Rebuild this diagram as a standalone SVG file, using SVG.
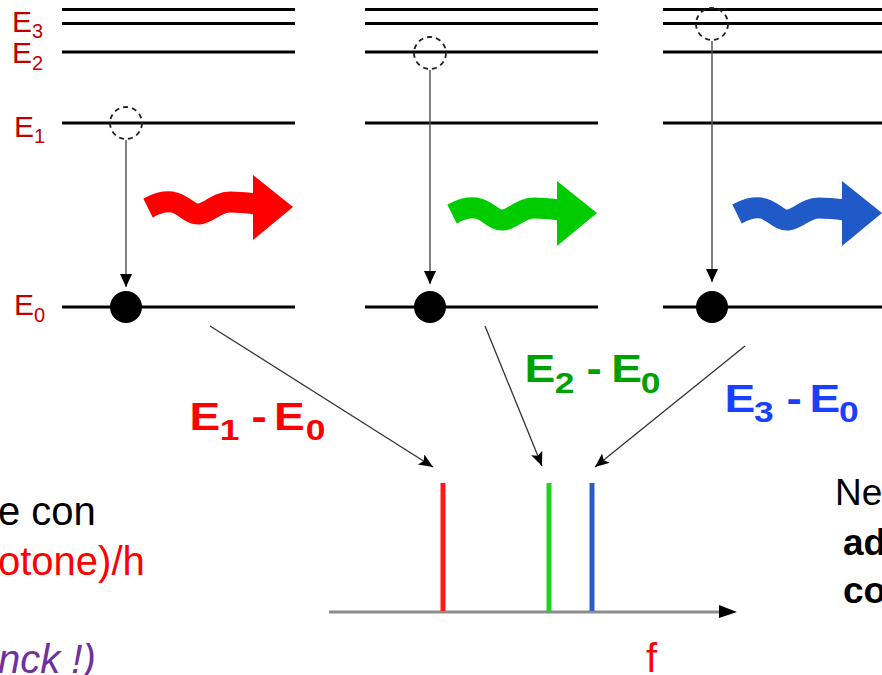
<svg xmlns="http://www.w3.org/2000/svg" xmlns:xlink="http://www.w3.org/1999/xlink" width="882" height="675" viewBox="0 0 882 675">
<style>
text{font-family:"Liberation Sans",Arial,sans-serif}
.lvl{stroke:#000;stroke-width:3;fill:none}
.ghost{fill:none;stroke:#222;stroke-width:1.8;stroke-dasharray:5 4}
.dot{fill:#000}
.elab{fill:#c00000;font-size:30px}
.sub{font-size:20px}
.vconn{stroke:#555;stroke-width:1.5;fill:none}
.dconn{stroke:#333;stroke-width:1.3;fill:none}
.big{font-size:39px;font-weight:bold}
.bsub{font-size:30px}
</style>
<defs>
<marker id="ah" markerUnits="userSpaceOnUse" markerWidth="14" markerHeight="14" refX="13" refY="6" orient="auto">
<path d="M0,0 L13,6 L0,12 Z" fill="#000"/>
</marker>
<marker id="ah2" markerUnits="userSpaceOnUse" markerWidth="16" markerHeight="14" refX="14" refY="6" orient="auto">
<path d="M0,0 L14,6 L0,12 L3,6 Z" fill="#000"/>
</marker>
<g id="wave">
<path d="M148,208 C158,203 164,201 172,202 C184,204 190,215 199,214 C210,213 216,202 230,202 C240,202 248,203 256,204" fill="none" stroke="currentColor" stroke-width="21"/>
<polygon points="253,175 293,207 253,240" fill="currentColor"/>
</g>
</defs>

<g id="level-labels">
<text class="elab" x="12" y="32">E<tspan class="sub" dy="6">3</tspan></text>
<text class="elab" x="12" y="63">E<tspan class="sub" dy="7">2</tspan></text>
<text class="elab" x="14" y="137">E<tspan class="sub" dy="6">1</tspan></text>
<text class="elab" x="14" y="315">E<tspan class="sub" dy="7">0</tspan></text>
</g>

<g id="atom-red">
<line class="lvl" x1="62" y1="9.5" x2="295" y2="9.5"/>
<line class="lvl" x1="62" y1="23.5" x2="295" y2="23.5"/>
<line class="lvl" x1="62" y1="52" x2="295" y2="52"/>
<line class="lvl" x1="62" y1="123" x2="295" y2="123"/>
<line class="lvl" x1="62" y1="307" x2="295" y2="307"/>
<circle class="ghost" cx="126" cy="123" r="16"/>
<circle class="dot" cx="126" cy="307" r="16"/>
<use xlink:href="#wave" href="#wave" color="#ff0000"/>
</g>

<g id="atom-green">
<line class="lvl" x1="365" y1="9.5" x2="598" y2="9.5"/>
<line class="lvl" x1="365" y1="23.5" x2="598" y2="23.5"/>
<line class="lvl" x1="365" y1="52" x2="598" y2="52"/>
<line class="lvl" x1="365" y1="123" x2="598" y2="123"/>
<line class="lvl" x1="365" y1="307" x2="598" y2="307"/>
<circle class="ghost" cx="430" cy="53" r="16"/>
<circle class="dot" cx="430" cy="307" r="16"/>
<use xlink:href="#wave" href="#wave" color="#00cc00" transform="translate(304,6)"/>
</g>

<g id="atom-blue">
<line class="lvl" x1="663" y1="9.5" x2="882" y2="9.5"/>
<line class="lvl" x1="663" y1="23.5" x2="882" y2="23.5"/>
<line class="lvl" x1="663" y1="52" x2="882" y2="52"/>
<line class="lvl" x1="663" y1="123" x2="882" y2="123"/>
<line class="lvl" x1="663" y1="307" x2="882" y2="307"/>
<circle class="ghost" cx="712" cy="24" r="16"/>
<circle class="dot" cx="712" cy="307" r="16"/>
<use xlink:href="#wave" href="#wave" color="#1f5ac8" transform="translate(589,6)"/>
</g>

<g id="connectors">
<line class="vconn" x1="126" y1="140" x2="126" y2="287" marker-end="url(#ah)"/>
<line class="vconn" x1="430" y1="70" x2="430" y2="284" marker-end="url(#ah)"/>
<line class="vconn" x1="712" y1="41" x2="712" y2="282" marker-end="url(#ah)"/>
<line class="dconn" x1="210" y1="326" x2="433" y2="467" marker-end="url(#ah2)"/>
<line class="dconn" x1="485" y1="326" x2="542" y2="466" marker-end="url(#ah2)"/>
<line class="dconn" x1="745" y1="346" x2="595" y2="467" marker-end="url(#ah2)"/>
</g>

<g id="label-red">
<text class="big" fill="#ff0000" transform="translate(189.6,430) scale(1.18,1)"><tspan x="0" y="0">E</tspan><tspan class="bsub" x="25.5" y="10">1</tspan><tspan x="52.5" y="0">-</tspan><tspan x="71.5" y="0">E</tspan><tspan class="bsub" x="98.5" y="10">0</tspan></text>
</g>
<g id="label-green">
<text class="big" fill="#00a000" transform="translate(524.6,382) scale(1.18,1)"><tspan x="0" y="0">E</tspan><tspan class="bsub" x="25.5" y="11">2</tspan><tspan x="52.5" y="0">-</tspan><tspan x="73.5" y="0">E</tspan><tspan class="bsub" x="98.5" y="11">0</tspan></text>
</g>
<g id="label-blue">
<text class="big" fill="#1a40ff" transform="translate(724.6,412) scale(1.18,1)"><tspan x="0" y="0">E</tspan><tspan class="bsub" x="25" y="10">3</tspan><tspan x="52.5" y="0">-</tspan><tspan x="72" y="0">E</tspan><tspan class="bsub" x="97" y="10">0</tspan></text>
</g>

<g id="spectrum">
<line x1="329" y1="612" x2="722" y2="612" stroke="#8c8c8c" stroke-width="3"/>
<polygon points="719,605 737,612 719,618" fill="#000"/>
<line x1="443" y1="483" x2="443" y2="611" stroke="#ff1a1a" stroke-width="5"/>
<line x1="549" y1="483" x2="549" y2="611" stroke="#1ed41e" stroke-width="5"/>
<line x1="592" y1="483" x2="592" y2="611" stroke="#2a5cc8" stroke-width="5"/>
<text x="646" y="672" font-size="40" fill="#ff0000">f</text>
</g>

<g id="text-left" font-size="40">
<text x="-2" y="525" fill="#000">e con</text>
<text x="-2" y="575" fill="#ff0000">otone)/h</text>
<text x="-2" y="673" fill="#7030a0" font-style="italic">nck !)</text>
</g>

<g id="text-right" font-size="37">
<text x="835" y="505" fill="#000">Ne</text>
<text x="843" y="555" fill="#000" font-weight="bold">ad</text>
<text x="843" y="603" fill="#000" font-weight="bold">co</text>
</g>
</svg>
